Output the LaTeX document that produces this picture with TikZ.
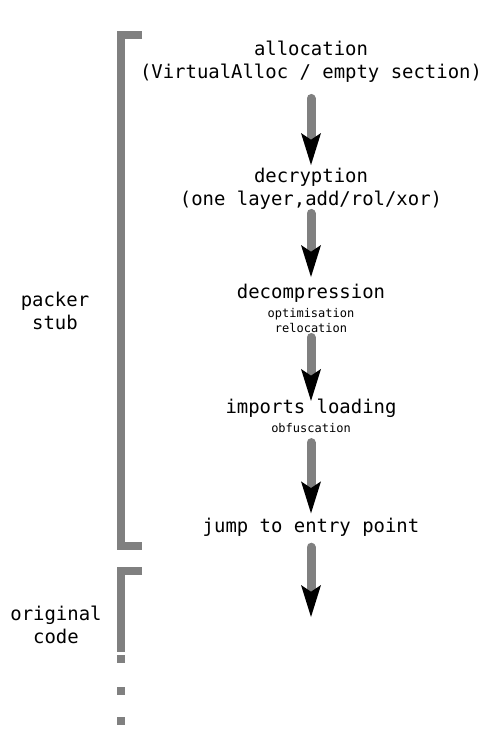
\documentclass[tikz,border=0pt]{standalone}
\usepackage{fontspec}
\setmonofont{DejaVu Sans Mono}
\usetikzlibrary{arrows.meta}

\definecolor{bargray}{RGB}{128,128,128}
\newcommand{\subtext}[1]{{\fontsize{9}{10}\selectfont #1}}

\begin{document}
\begin{tikzpicture}[x=0.75pt,y=-0.75pt,
	stage/.style={inner sep=0pt,align=center,font=\ttfamily\fontsize{14.2}{17.2}\selectfont},
	bar/.style={draw=bargray,line width=6pt},
	flow/.style={draw=bargray,line width=6.75pt,line cap=round,
		-{Stealth[length=24pt,width=15pt,inset=5pt,line width=0pt,black]}}]
	\useasboundingbox (0,0) rectangle (490,746);
	% brackets
	\draw [bar] (142,35) -- (120.5,35) -- (120.5,545.5) -- (142,545.5);
	\draw [bar] (142,571) -- (120.5,571) -- (120.5,652);
	\foreach \y in {655,687,717}
		\fill [bargray] (116.5,\y) rectangle (124.5,\y+7.5);
	% stages
	\node [stage] (alloc) at (311,61.5) {allocation\\(VirtualAlloc / empty section)};
	\node [stage] (decrypt) at (311,188.5) {decryption\\(one layer,add/rol/xor)};
	\node [stage] (decomp) at (311,308.5) {decompression\\[-3pt]\subtext{optimisation}\\[-6pt]\subtext{relocation}};
	\node [stage] (imports) at (311,416) {imports loading\\[-3pt]\subtext{obfuscation}};
	\node [stage,anchor=base] (jump) at (311,532) {jump to entry point};
	\coordinate (entry) at (311,617);
	\node [stage] (stub) at (55,311) {packer\\stub};
	\node [stage] (orig) at (56,625) {original\\code};
	\draw [flow] ([yshift=-12pt]alloc.south) -- ([yshift=1.9pt]decrypt.north);
	\draw [flow] ([yshift=-3pt]decrypt.south) -- ([yshift=5.25pt]decomp.north);
	\draw [flow] ([yshift=-3.35pt]decomp.south) -- ([yshift=-1.5pt]imports.north);
	\draw [flow] ([yshift=-7.15pt]imports.south) -- ([yshift=3pt]jump.north);
	\draw [flow] ([yshift=-8.25pt]jump.south) -- (entry);
\end{tikzpicture}
\end{document}
